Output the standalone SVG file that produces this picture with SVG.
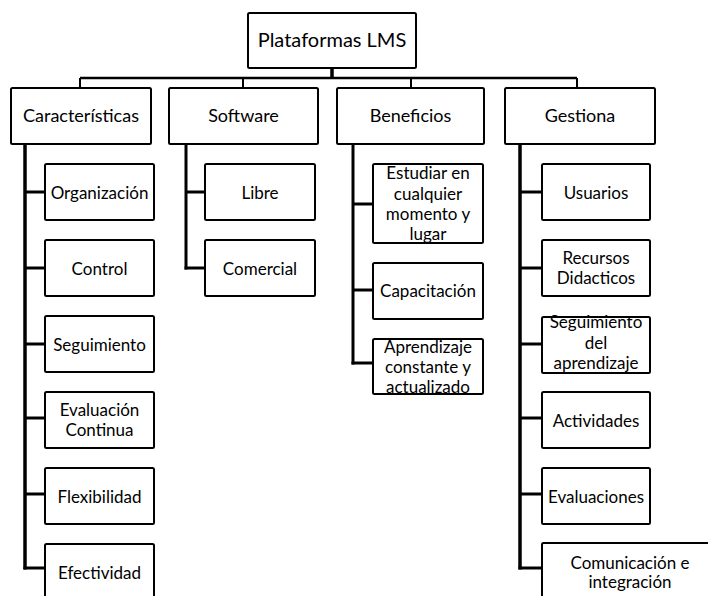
<svg xmlns="http://www.w3.org/2000/svg" width="708" height="596" viewBox="0 0 708 596">
  <style>
    .box { fill: #ffffff; stroke: #000000; stroke-width: 2; }
    .t { font-family: Lato, "Open Sans", "Liberation Sans", sans-serif; fill: #000000; text-anchor: middle; }
    .root { font-size: 20px; }
    .l1 { font-size: 18px; }
    .l2 { font-size: 17px; }
    .bus { fill: none; stroke: #000000; stroke-width: 2.5; }
    .stem { fill: none; stroke: #000000; stroke-width: 2; }
    .trunk { fill: none; stroke: #000000; stroke-width: 3.5; }
    .branch { fill: none; stroke: #000000; stroke-width: 3; }
  </style>
  <rect width="708" height="596" fill="#ffffff"/>

  <!-- connectors -->
  <g id="connectors">
    <line class="trunk" x1="332" y1="68" x2="332" y2="79"/>
    <line class="bus" x1="80" y1="78" x2="577" y2="78"/>
    <line class="stem" x1="80" y1="78" x2="80" y2="88"/>
    <line class="stem" x1="243" y1="78" x2="243" y2="88"/>
    <line class="stem" x1="411" y1="78" x2="411" y2="88"/>
    <line class="stem" x1="577" y1="78" x2="577" y2="88"/>

    <!-- Características -->
    <line class="trunk" x1="25" y1="144" x2="25" y2="569.5"/>
    <line class="branch" x1="25" y1="192" x2="45" y2="192"/>
    <line class="branch" x1="25" y1="268" x2="45" y2="268"/>
    <line class="branch" x1="25" y1="344" x2="45" y2="344"/>
    <line class="branch" x1="25" y1="418" x2="45" y2="418"/>
    <line class="branch" x1="25" y1="494" x2="45" y2="494"/>
    <line class="branch" x1="23.5" y1="568" x2="45" y2="568"/>

    <!-- Software -->
    <line class="branch" x1="186" y1="144" x2="186" y2="269.5"/>
    <line class="branch" x1="186" y1="192" x2="205" y2="192"/>
    <line class="branch" x1="184.5" y1="268" x2="205" y2="268"/>

    <!-- Beneficios -->
    <line class="branch" x1="353" y1="144" x2="353" y2="364.5"/>
    <line class="branch" x1="353" y1="204" x2="373" y2="204"/>
    <line class="branch" x1="353" y1="290" x2="373" y2="290"/>
    <line class="branch" x1="351.5" y1="363" x2="373" y2="363"/>

    <!-- Gestiona -->
    <line class="trunk" x1="520" y1="144" x2="520" y2="569.5"/>
    <line class="branch" x1="520" y1="192" x2="542" y2="192"/>
    <line class="branch" x1="520" y1="268" x2="542" y2="268"/>
    <line class="branch" x1="520" y1="344" x2="542" y2="344"/>
    <line class="branch" x1="520" y1="418" x2="542" y2="418"/>
    <line class="branch" x1="520" y1="494" x2="542" y2="494"/>
    <line class="branch" x1="518.5" y1="568" x2="542" y2="568"/>
  </g>

  <!-- root -->
  <g id="plataformas-lms">
    <rect class="box" x="248" y="13" width="168" height="55" rx="1.5"/>
    <text class="t root" x="332" y="47">Plataformas LMS</text>
  </g>

  <!-- level 1 -->
  <g id="caracteristicas">
    <rect class="box" x="11" y="88" width="140" height="56" rx="1.5"/>
    <text class="t l1" x="81" y="122">Características</text>
  </g>
  <g id="software">
    <rect class="box" x="169" y="88" width="149" height="56" rx="1.5"/>
    <text class="t l1" x="243.5" y="122">Software</text>
  </g>
  <g id="beneficios">
    <rect class="box" x="337" y="88" width="147" height="56" rx="1.5"/>
    <text class="t l1" x="410.5" y="122">Beneficios</text>
  </g>
  <g id="gestiona">
    <rect class="box" x="505" y="88" width="150" height="56" rx="1.5"/>
    <text class="t l1" x="580" y="122">Gestiona</text>
  </g>

  <!-- Características children -->
  <g id="organizacion">
    <rect class="box" x="45" y="164" width="109" height="56" rx="1.5"/>
    <text class="t l2" x="99.5" y="199">Organización</text>
  </g>
  <g id="control">
    <rect class="box" x="45" y="240" width="109" height="56" rx="1.5"/>
    <text class="t l2" x="99.5" y="275">Control</text>
  </g>
  <g id="seguimiento">
    <rect class="box" x="45" y="316" width="109" height="56" rx="1.5"/>
    <text class="t l2" x="99.5" y="351">Seguimiento</text>
  </g>
  <g id="evaluacion-continua">
    <rect class="box" x="45" y="392" width="109" height="56" rx="1.5"/>
    <text class="t l2" x="99.5" y="416">Evaluación</text>
    <text class="t l2" x="99.5" y="436">Continua</text>
  </g>
  <g id="flexibilidad">
    <rect class="box" x="45" y="468" width="109" height="56" rx="1.5"/>
    <text class="t l2" x="99.5" y="503">Flexibilidad</text>
  </g>
  <g id="efectividad">
    <rect class="box" x="45" y="544" width="109" height="56" rx="1.5"/>
    <text class="t l2" x="99.5" y="579">Efectividad</text>
  </g>

  <!-- Software children -->
  <g id="libre">
    <rect class="box" x="205" y="164" width="110" height="56" rx="1.5"/>
    <text class="t l2" x="260" y="199">Libre</text>
  </g>
  <g id="comercial">
    <rect class="box" x="205" y="240" width="110" height="56" rx="1.5"/>
    <text class="t l2" x="260" y="275">Comercial</text>
  </g>

  <!-- Beneficios children -->
  <g id="estudiar">
    <rect class="box" x="373" y="164" width="110" height="79" rx="1.5"/>
    <text class="t l2" x="428" y="179">Estudiar en</text>
    <text class="t l2" x="428" y="200">cualquier</text>
    <text class="t l2" x="428" y="220">momento y</text>
    <text class="t l2" x="428" y="240">lugar</text>
  </g>
  <g id="capacitacion">
    <rect class="box" x="373" y="263" width="110" height="56" rx="1.5"/>
    <text class="t l2" x="428" y="297">Capacitación</text>
  </g>
  <g id="aprendizaje">
    <rect class="box" x="373" y="339" width="110" height="55" rx="1.5"/>
    <text class="t l2" x="428" y="353">Aprendizaje</text>
    <text class="t l2" x="428" y="373">constante y</text>
    <text class="t l2" x="428" y="393">actualizado</text>
  </g>

  <!-- Gestiona children -->
  <g id="usuarios">
    <rect class="box" x="542" y="164" width="108" height="56" rx="1.5"/>
    <text class="t l2" x="596" y="199">Usuarios</text>
  </g>
  <g id="recursos">
    <rect class="box" x="542" y="240" width="108" height="56" rx="1.5"/>
    <text class="t l2" x="596" y="264">Recursos</text>
    <text class="t l2" x="596" y="284">Didacticos</text>
  </g>
  <g id="seguimiento-aprendizaje">
    <rect class="box" x="542" y="317" width="108" height="56" rx="1.5"/>
    <text class="t l2" x="596" y="328">Seguimiento</text>
    <text class="t l2" x="596" y="349">del</text>
    <text class="t l2" x="596" y="369">aprendizaje</text>
  </g>
  <g id="actividades">
    <rect class="box" x="542" y="392" width="108" height="56" rx="1.5"/>
    <text class="t l2" x="596" y="427">Actividades</text>
  </g>
  <g id="evaluaciones">
    <rect class="box" x="542" y="468" width="108" height="56" rx="1.5"/>
    <text class="t l2" x="596" y="503">Evaluaciones</text>
  </g>
  <g id="comunicacion">
    <rect class="box" x="542" y="543" width="178" height="60" rx="1.5"/>
    <text class="t l2" x="630" y="569">Comunicación e</text>
    <text class="t l2" x="630" y="588">integración</text>
  </g>
</svg>
